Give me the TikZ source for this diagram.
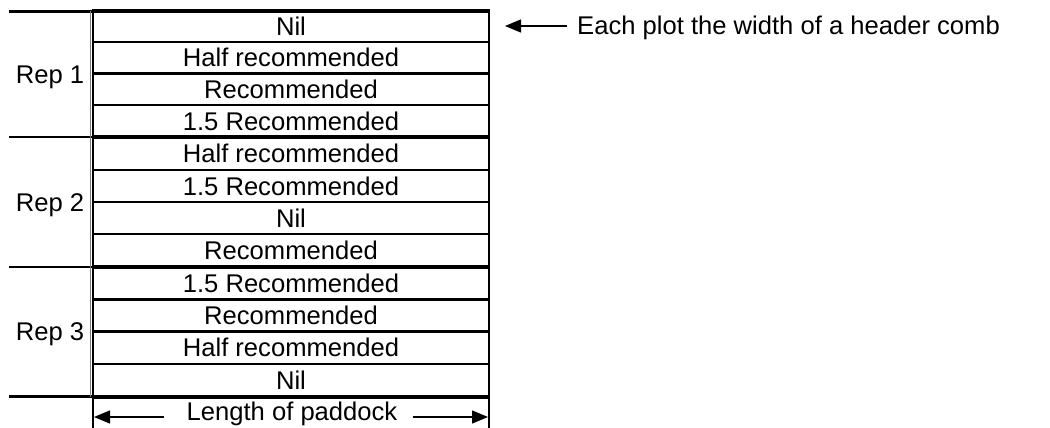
\documentclass[tikz,border=0pt]{standalone}
\usepackage{fontspec}
\setmainfont{Liberation Sans}
\usetikzlibrary{arrows.meta}
\begin{document}
\begin{tikzpicture}[x=1pt,y=-1pt,
  cell/.style={inner sep=0pt, text height=18pt, text depth=0pt,
    font=\fontsize{25.6}{30}\selectfont},
  rowline/.style={line width=2.8pt},
  groupline/.style={line width=4pt},
  repline/.style={line width=2.4pt},
  arr/.style={line width=1.4pt, -{Triangle[length=16pt,width=13pt]}}
]
\useasboundingbox (0,0) rectangle (1050,428);

% plot rows: index / treatment / top / bottom
\foreach \i/\t/\a/\b in {
  1/Nil/11.5/42, 2/Half recommended/42/73.5, 3/Recommended/73.5/105,
  4/1.5 Recommended/105/137, 5/Half recommended/137/170,
  6/1.5 Recommended/170/202, 7/Nil/202/234, 8/Recommended/234/267,
  9/1.5 Recommended/267/299.5, 10/Recommended/299.5/331.5,
  11/Half recommended/331.5/364, 12/Nil/364/396.5}
  \node[cell] (r\i) at (291,{(\a+\b)/2}) {\t};

% separators between plots
\foreach \y in {42,73.5,105,170,202,234,299.5,331.5,364}
  \draw[rowline] (93,\y) -- (489,\y);
% separators between replicates
\foreach \y in {11.5,137,267,396.5}
  \draw[groupline] (93,\y) -- (489,\y);

% side edges of the paddock
\draw[rowline] (93,9.5) -- (93,428);
\draw[rowline] (489,9.5) -- (489,428);

% replicate column
\foreach \y in {11.5,137,267,396.5}
  \draw[repline] (9,\y) -- (93,\y);
\draw[line width=0.8pt, gray] (90.3,11.5) -- (90.3,396.5);

\node[cell] (rep1) at (50,74.25) {Rep 1};
\node[cell] (rep2) at (50,202) {Rep 2};
\node[cell] (rep3) at (50,331.75) {Rep 3};

% plot width note
\node[cell, anchor=west] (note) at (577,26) {Each plot the width of a header comb};
\coordinate (notetip) at (505,26);
\draw[arr, shorten <=10pt] (note.west) -- (notetip);

% paddock length
\node[cell] (len) at (292,411.5) {Length of paddock};
\coordinate (lenleft) at (94,417);
\coordinate (lenright) at (488,417);
\draw[arr, shorten <=22pt] (len.west |- lenleft) -- (lenleft);
\draw[arr, shorten <=15pt] (len.east |- lenright) -- (lenright);
\end{tikzpicture}
\end{document}
